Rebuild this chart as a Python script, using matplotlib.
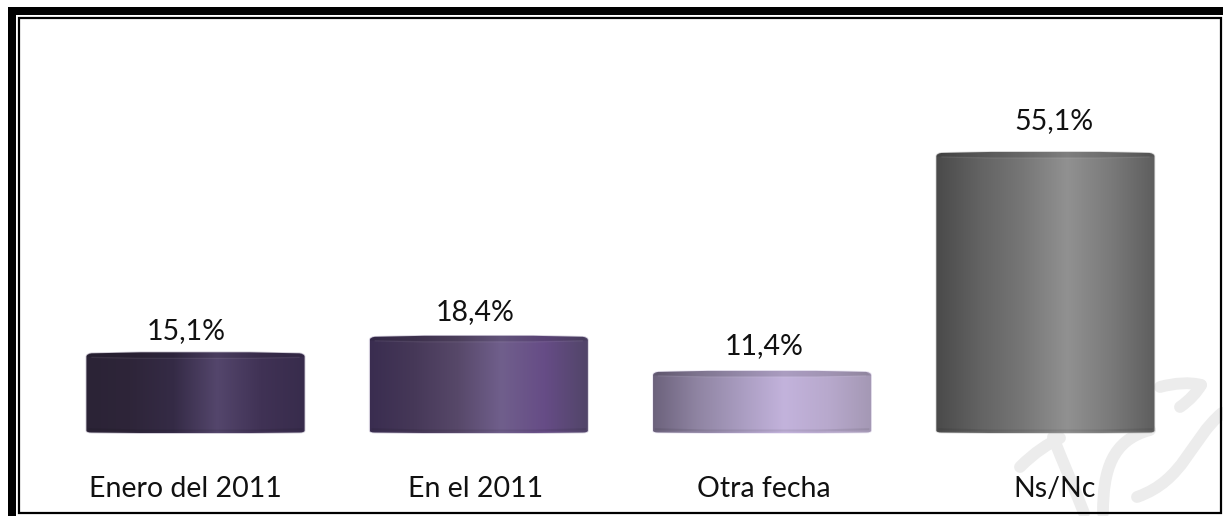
import matplotlib
matplotlib.use('Agg')
import matplotlib.pyplot as plt
import numpy as np
from matplotlib.colors import LinearSegmentedColormap
from matplotlib.path import Path
from matplotlib.patches import PathPatch, Rectangle

categories = ['Enero del 2011', 'En el 2011', 'Otra fecha', 'Ns/Nc']
values = [15.1, 18.4, 11.4, 55.1]
labels = ['15,1%', '18,4%', '11,4%', '55,1%']
colors = [
    ['#2b2336', '#2e2539', '#352b46', '#54466c', '#403255', '#382c4c'],
    ['#3a2d50', '#463858', '#574869', '#705f8c', '#664c86', '#514568'],
    ['#6c627c', '#8f84a2', '#a99cc0', '#c3b3dc', '#b8a9cd', '#a498b4'],
    ['#4a4a4a', '#636363', '#777777', '#919191', '#7a7a7a', '#5e5e5e'],
]
# labels sit a little off the cylinders in the original
label_shift = [-0.034, -0.012, 0.006, 0.031]
label_pad = [4.3, 4.7, 4.9, 6.1]

plt.rcParams['font.family'] = ['Lato', 'DejaVu Sans']
W, H = 1223, 516
fig = plt.figure(figsize=(W / 100, H / 100), dpi=100)

# background layer in pixels, for the frame and watermark
bg = fig.add_axes([0, 0, 1, 1])
bg.set_xlim(0, W)
bg.set_ylim(H, 0)
bg.axis('off')

wm = '#ececec'
strokes = [
    [(1020, 467), (1035, 452), (1048, 444), (1060, 438)],
    [(1053, 437), (1062, 460), (1075, 490), (1084, 513)],
    [(1103, 513), (1103, 470), (1112, 440), (1150, 430)],
    [(1137, 497), (1185, 480), (1190, 440), (1222, 413)],
    [(1160, 387), (1175, 383), (1190, 382), (1201, 385)],
    [(1201, 385), (1197, 392), (1190, 400), (1180, 407)],
]
for s in strokes:
    codes = [Path.MOVETO] + [Path.CURVE4] * 3
    bg.add_patch(PathPatch(Path(s, codes), fc='none', ec=wm, lw=8.5, capstyle='round'))

bg.add_patch(Rectangle((8, 7), W - 8, 8, fc='black', ec='none'))
bg.add_patch(Rectangle((8, 7), 8, H - 7, fc='black', ec='none'))
bg.add_patch(Rectangle((18.5, 17.5), W - 20.5, 495, fc='none', ec='black', lw=1.6))

# chart axes, zero sits at y=428 px and one unit is about 5 px
ax = fig.add_axes([0, 0, 1, 1])
ax.patch.set_alpha(0)
ax.axis('off')
step = 283.3
x0 = 195.5
xlim = (-x0 / step, (W - x0) / step)
ylim = ((H - 428) / -5.01, 428 / 5.01)

width = 0.77
foot = 1.0
for i, v in enumerate(values):
    cmap = LinearSegmentedColormap.from_list('c', colors[i])
    grad = np.linspace(0, 1, 256).reshape(1, -1)
    left, right = i - width / 2, i + width / 2
    bot = -foot
    im = ax.imshow(grad, cmap=cmap, extent=[left, right, bot, v], aspect='auto', zorder=2)
    # cylinder outline with curved top and bottom edges
    c = 0.018
    d = 0.9
    e = 0.5
    verts = [
        (left, bot + e), (left, v - d), (left, v - d + 0.6), (left + c, v - d + 0.7),
        (i - width / 4, v), (i + width / 4, v),
        (right - c, v - d + 0.7), (right, v - d + 0.6), (right, v - d),
        (right, bot + e), (right, bot + e - 0.4), (right - c, bot + e - 0.4),
        (i + width / 4, bot), (i - width / 4, bot),
        (left + c, bot + e - 0.4), (left, bot + e - 0.4), (left, bot + e),
    ]
    codes = [Path.MOVETO, Path.LINETO, Path.CURVE3, Path.CURVE3,
             Path.LINETO, Path.LINETO,
             Path.LINETO, Path.CURVE3, Path.CURVE3,
             Path.LINETO, Path.CURVE3, Path.CURVE3,
             Path.LINETO, Path.LINETO,
             Path.LINETO, Path.CURVE3, Path.CURVE3]
    outline = PathPatch(Path(verts, codes), fc='none', ec=colors[i][3], lw=1.2, alpha=0.3, zorder=1)
    ax.add_patch(outline)
    im.set_clip_path(Path(verts, codes), ax.transData)

    # darker cap and faint rim near the top and bottom
    cap_x = [left, i - width / 4, i + width / 4, right, right - c, i + width / 4, i - width / 4, left + c]
    cap_y = [v - d, v - d - 0.25, v - d - 0.25, v - d, v - d + 0.7, v, v, v - d + 0.7]
    ax.fill(cap_x, cap_y, fc='black', alpha=0.12, ec='none', zorder=3)
    ax.plot([left + 0.02, i - width / 4, i + width / 4, right - 0.02],
            [v - d - 0.1, v - d - 0.3, v - d - 0.3, v - d - 0.1],
            color='white', alpha=0.07, lw=1, zorder=3)
    ax.plot([left + 0.01, i - width / 4, i + width / 4, right - 0.01],
            [bot + 0.75, bot + 0.5, bot + 0.5, bot + 0.75],
            color='black', alpha=0.08, lw=1.5, zorder=3)

    ax.text(i + label_shift[i], v + label_pad[i], labels[i], ha='center', va='center',
            fontsize=20.5, color='#111111')
    ax.text(i + label_shift[i], -12.1, categories[i], ha='center', va='center',
            fontsize=20.5, color='#111111')

ax.set_xlim(xlim)
ax.set_ylim(ylim)
fig.savefig('out.png', dpi=100)
